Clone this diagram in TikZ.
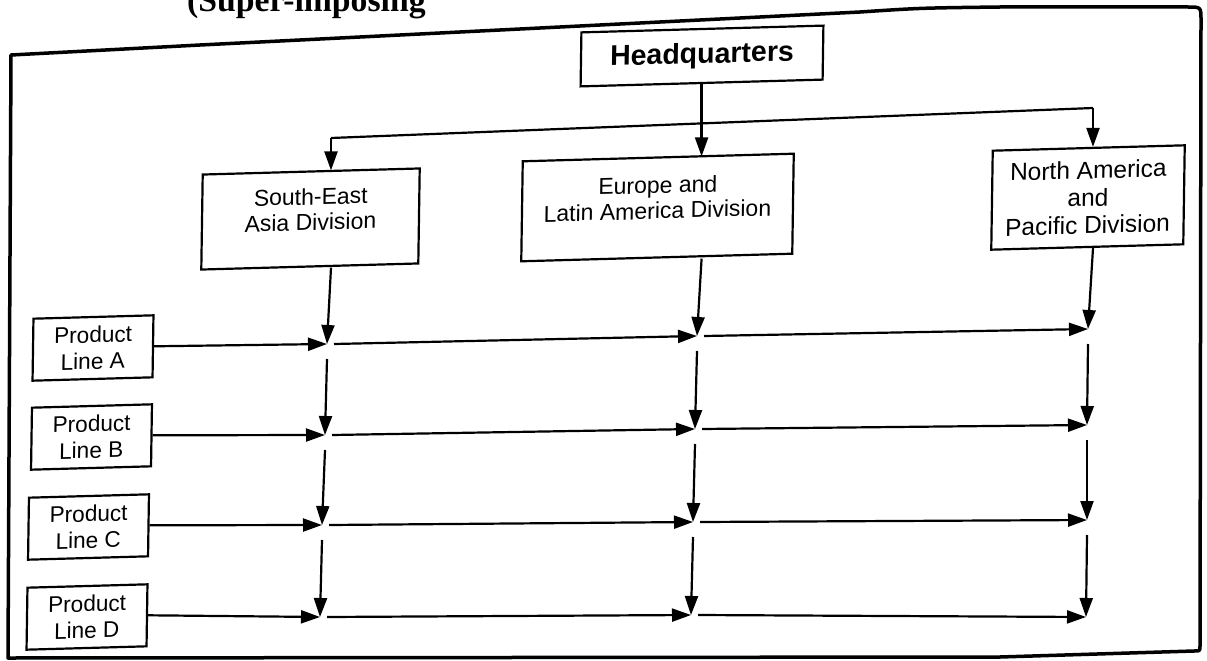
\documentclass[tikz,border=0pt]{standalone}
\usepackage{fontspec}
\setmainfont{Liberation Sans}
\newfontfamily\headserif{Liberation Serif}
\usetikzlibrary{arrows.meta}

\begin{document}
\begin{tikzpicture}[x=1pt,y=-1pt,
  skewed/.style={cm={1,0.028,0.015,1,(0,0)}},
  nodebox/.style={draw, line width=2.2pt, skewed, inner sep=0pt, align=center},
  hqbox/.style={nodebox, minimum width=242, minimum height=54,
    font=\bfseries\fontsize{28.5}{30}\selectfont},
  divbox/.style={nodebox, font=\fontsize{23}{25.5}\selectfont},
  pbox/.style={nodebox, minimum width=120, minimum height=62,
    font=\fontsize{22.6}{26.5}\selectfont},
  ln/.style={line width=2.2pt},
  arr/.style={line width=2.2pt, -{Triangle[length=19pt,width=13pt]}},
  outerframe/.style={line width=3.5pt, line join=round}]

\useasboundingbox (0,0) rectangle (1207,661);
\fill[white] (0,0) rectangle (1207,661);
\clip (0,0) rectangle (1207,661);

% heading line, cut by the top edge of the page
\node[anchor=base west, inner sep=0pt,
  font=\headserif\bfseries\fontsize{33.7}{36}\selectfont] (title) at (187,12) {(Super-imposing};

% outer frame
\draw[outerframe] (11,55) -- (200,45) -- (860,12) .. controls (920,8) .. (1000,7)
  -- (1188,7) .. controls (1201,7) .. (1201,20) -- (1200,646)
  .. controls (1200,651) .. (1194,651) -- (1000,657) -- (8,658) -- cycle;

% headquarters and divisions
\node[hqbox] (hq) at (702,56) {Headquarters};
\node[divbox, minimum width=217, minimum height=95] (se) at (310.5,219)
  {South-East\\Asia Division\\[-6pt]\mbox{}};
\node[divbox, minimum width=271, minimum height=100] (eu) at (657.5,207.5)
  {Europe and\\Latin America Division\\[-6pt]\mbox{}};
\node[divbox, minimum width=192, minimum height=99,
  font=\fontsize{24.5}{27.5}\selectfont] (na) at (1088,197.5)
  {North America\\and\\Pacific Division};

% product lines
\node[pbox] (pA) at (93,348) {Product\\Line A};
\node[pbox] (pB) at (91.5,437) {Product\\Line B};
\node[pbox] (pC) at (88.5,527) {Product\\Line C};
\node[pbox] (pD) at (87,617) {Product\\Line D};

% crossing points of the matrix
\coordinate (sA) at (327,344);  \coordinate (sB) at (325,435);
\coordinate (sC) at (322,525);  \coordinate (sD) at (320,617);
\coordinate (eA) at (697,336);  \coordinate (eB) at (695,429);
\coordinate (eC) at (693,522);  \coordinate (eD) at (691,615);
\coordinate (nA) at (1088,329); \coordinate (nB) at (1087,425);
\coordinate (nC) at (1087,520); \coordinate (nD) at (1086,617);

% distribution bus below headquarters
\coordinate (busS) at (331,138);
\coordinate (busN) at (1093,108);
\draw[ln] (busS) -- (busN);
\draw[arr] (busS) -- (se.north -| busS);
\draw[arr] (busN) -- (na.north -| busN);
\draw[arr] (hq.south) -- (eu.north -| hq.south);

% division columns
\draw[arr] (se.south -| busS) -- (sA);
\draw[arr] (eu.south -| hq.south) -- (eA);
\draw[arr] (na.south -| busN) -- (nA);
\foreach \a/\b in {A/B,B/C,C/D}{
  \draw[arr] ([yshift=-15pt]s\a) -- (s\b);
  \draw[arr] ([yshift=-15pt]e\a) -- (e\b);
  \draw[arr] ([yshift=-15pt]n\a) -- (n\b);
}

% product rows
\foreach \r in {A,B,C,D}{
  \draw[arr] (p\r.east) -- (s\r);
  \draw[arr] ([xshift=7pt]s\r) -- (e\r);
  \draw[arr] ([xshift=7pt]e\r) -- (n\r);
}
\end{tikzpicture}
\end{document}
